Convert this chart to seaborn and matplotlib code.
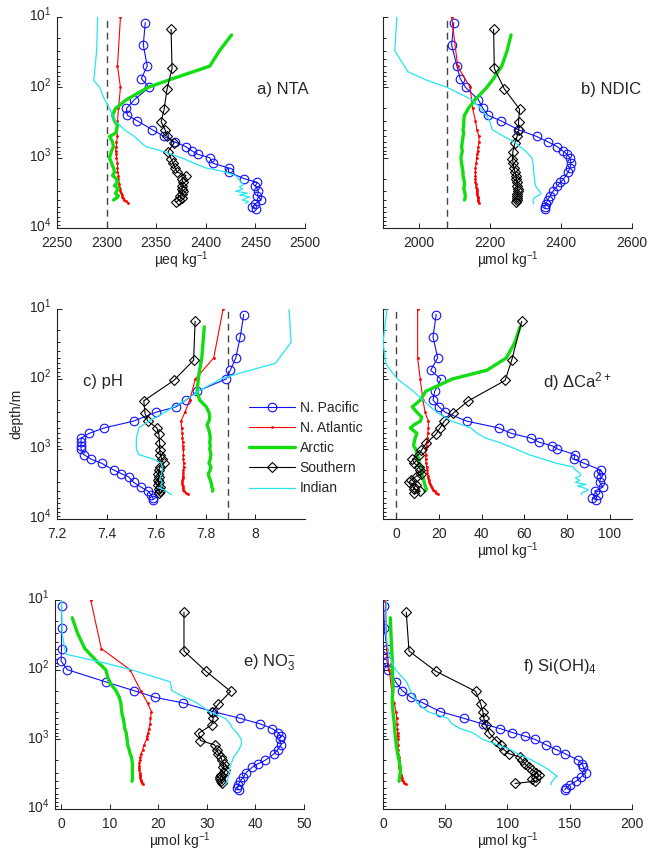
import numpy as np
import matplotlib
matplotlib.use("Agg")
import matplotlib.pyplot as plt
import matplotlib.transforms as mtransforms
from matplotlib.ticker import LogLocator, NullFormatter
import seaborn as sns

# DEPTH LEVELS (m) FOR EACH OCEAN PROFILE
pac_depth = [12, 25, 50, 75, 100, 150, 200, 250, 300, 400, 500, 600, 700, 800, 900, 1000,
             1200, 1400, 1600, 2000, 2250, 2500, 3000, 3500, 4000, 4500, 5000, 5300]
atl_depth = [10, 50, 100, 200, 300, 400, 500, 600, 700, 800, 900, 1000, 1200, 1400, 1600,
             1800, 2000, 2200, 2400, 2600, 2800, 3000, 3200, 3400, 3600, 3800, 4000, 4200, 4400]
arc_depth = [18, 30, 50, 75, 100, 150, 200, 250, 300, 350, 400, 450, 500, 600, 700, 800, 900,
             1000, 1200, 1400, 1600, 1800, 2000, 2250, 2500, 2750, 3000, 3250, 3500, 3750, 4000]
sou_depth = [15, 54, 105, 205, 310, 400, 500, 620, 820, 1040, 1200, 1400, 1600, 1800, 2000,
             2250, 2500, 2750, 3000, 3250, 3500, 3750, 4000, 4300]
ind_depth = [10, 30, 60, 80, 100, 150, 200, 250, 300, 400, 500, 600, 700, 800, 1000, 1200,
             1400, 1600, 1800, 2000, 2200, 2400, 2600, 2800, 3000, 3200, 3400, 3600, 3800,
             4000, 4200, 4500]

# a) NTA (ueq/kg)
pac_nta = [2339, 2337, 2341, 2335, 2343, 2328, 2320, 2321, 2331, 2346, 2358, 2369, 2380, 2386,
           2392, 2404, 2407, 2423, 2423, 2439, 2452, 2450, 2453, 2452, 2456, 2450, 2447, 2451]
atl_nta = [2314, 2311, 2314, 2312, 2311, 2310, 2311, 2310, 2310, 2309, 2310, 2310, 2311, 2311,
           2311, 2312, 2312, 2312, 2313, 2313, 2314, 2314, 2315, 2316, 2316, 2317, 2318, 2320, 2322]
arc_nta = [2426, 2414, 2404, 2367, 2342, 2320, 2309, 2306, 2308, 2311, 2310, 2309, 2303, 2306,
           2307, 2305, 2304, 2303, 2305, 2307, 2308, 2306, 2310, 2311, 2308, 2312, 2310, 2309,
           2312, 2310, 2307]
sou_nta = [2365, 2366, 2361, 2358, 2355, 2359, 2361, 2368, 2362, 2365, 2367, 2369, 2371, 2380,
           2376, 2377, 2376, 2376, 2377, 2376, 2374, 2376, 2373, 2370]
ind_nta = [2291, 2290, 2288, 2287, 2293, 2298, 2303, 2306, 2309, 2318, 2328, 2334, 2340, 2355,
           2375, 2388, 2400, 2420, 2430, 2433, 2435, 2438, 2434, 2437, 2430, 2442, 2434, 2444,
           2440, 2437, 2443, 2440]

# b) NDIC (umol/kg)
pac_ndic = [2099, 2093, 2108, 2117, 2132, 2168, 2181, 2195, 2232, 2280, 2332, 2365, 2390, 2405,
            2418, 2425, 2429, 2425, 2421, 2408, 2399, 2390, 2378, 2370, 2363, 2358, 2355, 2356]
atl_ndic = [2093, 2110, 2145, 2152, 2160, 2164, 2170, 2170, 2168, 2166, 2165, 2163, 2162, 2160,
            2160, 2160, 2160, 2160, 2161, 2162, 2163, 2164, 2164, 2165, 2166, 2166, 2167, 2168, 2169]
arc_ndic = [2260, 2249, 2234, 2211, 2192, 2159, 2140, 2129, 2127, 2127, 2125, 2127, 2125, 2123,
            2121, 2123, 2121, 2119, 2121, 2123, 2125, 2125, 2127, 2129, 2129, 2127, 2129, 2131,
            2131, 2131, 2129]
sou_ndic = [2211, 2213, 2241, 2284, 2281, 2282, 2277, 2271, 2265, 2264, 2266, 2268, 2271, 2274,
            2275, 2277, 2277, 2279, 2279, 2278, 2278, 2277, 2276, 2273]
ind_ndic = [1939, 1933, 1970, 2025, 2080, 2150, 2175, 2190, 2200, 2207, 2240, 2270, 2285, 2300,
            2318, 2322, 2323, 2324, 2325, 2326, 2327, 2328, 2330, 2335, 2340, 2344, 2340, 2330,
            2325, 2322, 2322, 2324]

# c) pH
pac_ph = [7.953, 7.939, 7.921, 7.899, 7.882, 7.766, 7.72, 7.68, 7.598, 7.509, 7.39, 7.329, 7.297,
          7.297, 7.297, 7.297, 7.308, 7.338, 7.38, 7.429, 7.46, 7.489, 7.509, 7.539, 7.567, 7.579,
          7.587, 7.587]
atl_ph = [7.870, 7.832, 7.758, 7.735, 7.716, 7.700, 7.703, 7.705, 7.706, 7.707, 7.708, 7.709,
          7.710, 7.710, 7.711, 7.711, 7.710, 7.709, 7.708, 7.707, 7.706, 7.706, 7.706, 7.707,
          7.708, 7.709, 7.712, 7.720, 7.728]
arc_ph = [7.794, 7.789, 7.784, 7.775, 7.770, 7.765, 7.775, 7.802, 7.813, 7.816, 7.813, 7.805,
          7.81, 7.816, 7.818, 7.816, 7.818, 7.816, 7.821, 7.818, 7.813, 7.821, 7.818, 7.81, 7.813,
          7.818, 7.821, 7.824, 7.824, 7.829, 7.827]
sou_ph = [7.757, 7.751, 7.671, 7.550, 7.555, 7.566, 7.603, 7.611, 7.614, 7.614, 7.617, 7.622,
          7.630, 7.614, 7.611, 7.608, 7.611, 7.608, 7.611, 7.608, 7.614, 7.611, 7.614, 7.611]
ind_ph = [8.136, 8.144, 8.08, 7.95, 7.86, 7.77, 7.72, 7.67, 7.635, 7.57, 7.53, 7.525, 7.52, 7.52,
          7.52, 7.53, 7.59, 7.62, 7.624, 7.625, 7.622, 7.62, 7.615, 7.62, 7.625, 7.618, 7.625,
          7.61, 7.63, 7.64, 7.648, 7.662]

# d) delta Ca2+ (umol/kg)
pac_dca = [18.7, 17.2, 19.4, 16.1, 20.9, 18.0, 17.2, 20.0, 23.0, 33.0, 48.0, 54.0, 63.0, 67.0,
           73.0, 75.5, 83.7, 83.4, 88.0, 96.0, 94.7, 96.0, 95.3, 96.9, 93.0, 94.4, 91.9, 93.5]
atl_dca = [10, 10, 11.2, 12.5, 13.5, 15, 15, 14.8, 14.6, 14.4, 14.2, 14, 13.8, 13.8, 14, 14.2,
           14.4, 14.6, 14.8, 15, 15.2, 15.4, 15.8, 16.2, 16.8, 17.4, 18, 18.8, 19.7]
arc_dca = [58, 55.6, 51.6, 42.5, 26.3, 13.8, 11.3, 7.5, 9.7, 11.9, 11.3, 8.4, 6.6, 9.7, 8.8, 8.4,
           8.1, 9.1, 9.7, 10.6, 10.6, 11.9, 12.2, 11.9, 12.5, 12.8, 13.1, 13.4, 13.8, 14.1, 13.4]
sou_dca = [58.8, 54.1, 51.0, 33.8, 26.6, 22.5, 20.5, 18.5, 14.1, 11.8, 10.6, 7.5, 8.5, 10.5, 11.3,
           11.6, 9.0, 7.0, 5.9, 9.4, 8.5, 8.1, 11.3, 8.4]
ind_dca = [-4.4, -6.2, -5.0, -2.0, 0.5, 8.0, 12.5, 16.0, 19.0, 26.0, 35.0, 38.0, 42.0, 48.0,
           56.0, 62.0, 69.0, 75.0, 83.0, 84.0, 86.0, 86.5, 84.0, 86.0, 84.0, 89.0, 85.0, 88.0,
           90.0, 89.0, 87.0, 86.6]

# e) NO3- (umol/kg)
pac_no3 = [0.1, 0.1, 0.1, 0.0, 1.3, 9.2, 15.0, 19.4, 25.1, 31.3, 36.9, 41.0, 43.4, 44.7, 45.2,
           45.0, 45.3, 44.6, 43.9, 42.0, 40.5, 39.4, 38.1, 37.5, 36.8, 36.5, 36.3, 36.6]
atl_no3 = [6.1, 8.3, 14.2, 16.4, 17.8, 18.6, 18.4, 18.3, 18.1, 17.9, 17.7, 17.6, 17.1, 16.8,
           16.5, 16.3, 16.2, 16.1, 16.1, 16.1, 16.1, 16.2, 16.2, 16.3, 16.3, 16.4, 16.5, 16.7, 16.9]
arc_no3 = [2.3, 3.4, 4.9, 7.3, 9.2, 9.9, 11.3, 12.0, 12.3, 12.4, 12.5, 12.6, 12.8, 13.0, 13.1,
           13.4, 13.5, 13.6, 13.7, 14.0, 14.2, 14.5, 14.6, 14.7, 14.7, 14.7, 14.7, 14.7, 14.7,
           14.7, 14.6]
sou_no3 = [25.3, 25.3, 29.8, 34.9, 32.4, 31.1, 31.3, 31.0, 28.3, 28.7, 31.6, 32.0, 32.4, 32.9,
           33.1, 33.5, 33.4, 33.8, 33.6, 33.0, 32.8, 32.7, 32.9, 33.2]
ind_no3 = [0.1, 0.2, 1.0, 8.9, 14.4, 22.5, 22.8, 25.5, 28.0, 30.5, 33.8, 34.8, 35.3, 36.2, 37.1,
           37.1, 36.6, 36.1, 35.5, 35.3, 35.0, 34.9, 34.7, 34.7, 34.6, 34.5, 34.5, 34.3, 34.3,
           34.2, 34.0, 33.8]

# f) Si(OH)4 (umol/kg)
pac_si = [0.5, 1.1, 3.2, 3.2, 4.3, 10.2, 15.5, 22.5, 32.0, 46.0, 65.0, 80.0, 94.0, 104.0, 114.0,
          122.0, 131.0, 139.0, 146.0, 157.0, 160.0, 161.0, 163.0, 159.0, 155.0, 150.0, 147.0, 146.0]
atl_si = [2, 3, 5, 7, 9, 10.5, 11, 11.3, 11.5, 11.7, 11.8, 12, 12.2, 12.3, 12.4, 12.5, 12.6, 12.8,
          13, 13.2, 13.5, 13.8, 14.1, 14.5, 15, 15.5, 16.2, 17.2, 18.7]
arc_si = [5.9, 6.4, 7.0, 7.5, 7.5, 8.0, 8.0, 7.5, 7.5, 7.8, 8.0, 8.3, 8.6, 9.1, 9.4, 9.6, 9.9,
          10.2, 10.7, 11.2, 11.8, 12.3, 12.9, 13.4, 13.9, 13.9, 13.9, 13.6, 13.4, 13.1, 12.9]
sou_si = [18.7, 20.9, 42.3, 74.4, 78.5, 80.2, 81.0, 82.5, 85.5, 91.0, 95.0, 97.0, 101.0, 110.0,
          112.0, 114.0, 117.0, 120.0, 123.0, 125.0, 123.0, 120.0, 122.0, 106.0]
ind_si = [2.7, 2.3, 4.5, 7.5, 10.0, 19.0, 22.0, 25.5, 27.5, 36.0, 52.0, 55.5, 62.0, 72.0, 80.0,
          92.0, 102.0, 108.0, 114.0, 120.0, 124.0, 128.0, 131.0, 134.0, 136.0, 138.0, 140.0,
          138.0, 137.0, 136.0, 135.0, 135.0]

ocean_names = ["N. Pacific", "N. Atlantic", "Arctic", "Southern", "Indian"]

# SET BASIC THEME PARAMETERS
sns.set_style("ticks")
plt.rcParams["font.family"] = ["Liberation Sans", "DejaVu Sans"]
plt.rcParams["mathtext.fontset"] = "custom"
plt.rcParams["mathtext.rm"] = "Liberation Sans"
plt.rcParams["mathtext.it"] = "Liberation Sans:italic"
plt.rcParams["mathtext.bf"] = "Liberation Sans:bold"
plt.rcParams["axes.linewidth"] = 0.8
plt.rcParams["axes.edgecolor"] = "#222222"

# line styles for each ocean (same order as ocean_names)
styles = [
    dict(color="#1010ff", lw=0.8, marker="o", ms=6.2, mfc="none", mec="#1010ff", mew=0.8),
    dict(color="#ff0000", lw=0.8, marker=".", ms=3, mfc="#ff0000", mec="#ff0000", mew=0.5),
    dict(color="#11dd11", lw=2.4, marker=None),
    dict(color="black", lw=0.8, marker="D", ms=5.3, mfc="none", mec="black", mew=0.8),
    dict(color="#22e6f2", lw=0.9, marker=None),
]
depths = [pac_depth, atl_depth, arc_depth, sou_depth, ind_depth]

mu_kg = "\u00b5mol kg$^{-1}$"
panels = [
    dict(vals=[pac_nta, atl_nta, arc_nta, sou_nta, ind_nta], xlim=(2250, 2500),
         xticks=[2250, 2300, 2350, 2400, 2450, 2500], xlabel="\u00b5eq kg$^{-1}$", ref=2300,
         title="a) NTA", tpos=(0.91, 0.655)),
    dict(vals=[pac_ndic, atl_ndic, arc_ndic, sou_ndic, ind_ndic], xlim=(1900, 2600),
         xticks=[2000, 2200, 2400, 2600], xlabel=mu_kg, ref=2080,
         title="b) NDIC", tpos=(0.915, 0.655)),
    dict(vals=[pac_ph, atl_ph, arc_ph, sou_ph, ind_ph], xlim=(7.2, 8.2),
         xticks=[7.2, 7.4, 7.6, 7.8, 8.0], xticklabels=["7.2", "7.4", "7.6", "7.8", "8"],
         xlabel="", ref=7.89, title="c) pH", tpos=(0.185, 0.655)),
    dict(vals=[pac_dca, atl_dca, arc_dca, sou_dca, ind_dca], xlim=(-6.25, 110.5),
         xticks=[0, 20, 40, 60, 80, 100], xlabel=mu_kg, ref=0,
         title="d) $\\Delta$Ca$^{2+}$", tpos=(0.78, 0.655)),
    dict(vals=[pac_no3, atl_no3, arc_no3, sou_no3, ind_no3], xlim=(-1.25, 50),
         xticks=[0, 10, 20, 30, 40, 50], xlabel=mu_kg, ref=None,
         title="e) NO$_3^{-}$", tpos=(0.86, 0.70)),
    dict(vals=[pac_si, atl_si, arc_si, sou_si, ind_si], xlim=(0, 200),
         xticks=[0, 50, 100, 150, 200], xlabel=mu_kg, ref=None,
         title="f) Si(OH)$_4$", tpos=(0.71, 0.68)),
]

# axes positions in figure fractions (left, bottom, width, height)
positions = [
    (0.0878, 0.7343, 0.3821, 0.2459), (0.5901, 0.7343, 0.3837, 0.2459),
    (0.0878, 0.3951, 0.3821, 0.2448), (0.5901, 0.3951, 0.3837, 0.2448),
    (0.0847, 0.0571, 0.3837, 0.2436), (0.5901, 0.0571, 0.3837, 0.2436),
]

fig = plt.figure(figsize=(6.49, 8.58), dpi=100)
# nudge the 10^n labels up so the "10" (not the exponent) sits on the tick
ylab_shift = mtransforms.ScaledTranslation(0, 3.5 / 100, fig.dpi_scale_trans)

legend_handles = []
for i, p in enumerate(panels):
    ax = fig.add_axes(positions[i])
    if p["ref"] is not None:
        ax.axvline(p["ref"], color="#444444", lw=1.0, ls=(0, (5, 3.5)), zorder=1)
    for k in range(5):
        st = styles[k]
        sns.lineplot(x=p["vals"][k], y=depths[k], ax=ax, estimator=None, sort=False,
                     color=st["color"], linewidth=st["lw"], marker=st["marker"],
                     markersize=st.get("ms", 0), markerfacecolor=st.get("mfc", "none"),
                     markeredgecolor=st.get("mec", st["color"]),
                     markeredgewidth=st.get("mew", 0.8), zorder=3 + k)
        if i == 2:
            legend_handles.append(ax.lines[-1])
    ax.set_yscale("log")
    ax.set_ylim(1e4, 10)
    ax.set_xlim(*p["xlim"])
    ax.set_xticks(p["xticks"])
    if "xticklabels" in p:
        ax.set_xticklabels(p["xticklabels"])
    ax.yaxis.set_major_locator(LogLocator(base=10, numticks=10))
    ax.yaxis.set_minor_locator(LogLocator(base=10, subs=np.arange(2, 10), numticks=10))
    ax.yaxis.set_minor_formatter(NullFormatter())
    ax.tick_params(which="both", direction="in", labelsize=10, width=0.7, color="#222222")
    ax.tick_params(which="major", length=3.5)
    ax.tick_params(which="minor", length=2)
    ax.tick_params(axis="x", which="major", pad=6)
    ax.tick_params(axis="y", which="major", pad=4)
    if i % 2 == 1:
        ax.tick_params(labelleft=False)
    else:
        for lab in ax.get_yticklabels():
            lab.set_transform(lab.get_transform() + ylab_shift)
    sns.despine(ax=ax)
    ax.set_xlabel(p["xlabel"], fontsize=10, labelpad=-1)
    ax.set_ylabel("")
    ax.text(p["tpos"][0], p["tpos"][1], p["title"], transform=ax.transAxes,
            ha="center", va="center", fontsize=12, clip_on=False)
    if i == 2:
        ax.set_ylabel("depth/m", fontsize=10, labelpad=4)

# legend of the ocean profiles (no frame, sits between c and d)
fig.legend(legend_handles, ocean_names, loc="center left",
           bbox_to_anchor=(249 / 649, 1 - 448 / 858), frameon=False, fontsize=10,
           handlelength=3.3, handletextpad=0.35, labelspacing=0.45,
           borderpad=0, borderaxespad=0)

fig.savefig("out.png", dpi=100)
